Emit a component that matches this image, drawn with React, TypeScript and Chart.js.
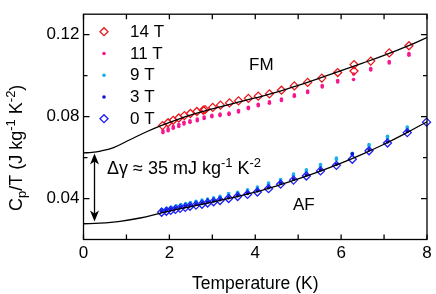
import React, { useEffect, useRef } from "react";
import { Chart, registerables } from "chart.js";

Chart.register(...registerables);

// ---------- data ----------
const T_14 = [1.84, 1.97, 2.09, 2.22, 2.35, 2.49, 2.64, 2.79, 2.83, 3.01, 3.19, 3.4, 3.61, 3.84, 4.07, 4.33, 4.61, 4.91, 5.22, 5.55, 5.92, 6.3, 6.3, 6.69, 7.12, 7.58];
const V_14 = [0.0756, 0.077, 0.0782, 0.0793, 0.0805, 0.0815, 0.0825, 0.0831, 0.0834, 0.0845, 0.0856, 0.0867, 0.0877, 0.0889, 0.09, 0.0911, 0.0929, 0.095, 0.0967, 0.0988, 0.1015, 0.1054, 0.1023, 0.1071, 0.1111, 0.1146];

const T_11 = [1.85, 1.97, 2.09, 2.22, 2.34, 2.48, 2.65, 2.81, 2.99, 3.18, 3.39, 3.61, 3.84, 4.07, 4.33, 4.61, 4.91, 5.22, 5.56, 5.92, 6.29, 6.69, 7.12, 7.58];
const V_11_LO = [0.0722, 0.0731, 0.0743, 0.0752, 0.0764, 0.0772, 0.078, 0.0791, 0.0799, 0.0805, 0.081, 0.0823, 0.0839, 0.0853, 0.0865, 0.0879, 0.0899, 0.0918, 0.0945, 0.0969, 0.0981, 0.1028, 0.1062, 0.11];
const V_11_HI = [0.0731, 0.074, 0.0751, 0.0761, 0.0772, 0.078, 0.0788, 0.0798, 0.0806, 0.0812, 0.0817, 0.083, 0.0846, 0.086, 0.0872, 0.0886, 0.0906, 0.0925, 0.0952, 0.0976, 0.1008, 0.1035, 0.1069, 0.1108];

const T_9 = [1.82, 1.94, 2.04, 2.16, 2.27, 2.38, 2.49, 2.62, 2.76, 2.89, 3.03, 3.18, 3.38, 3.59, 3.82, 4.05, 4.31, 4.59, 4.89, 5.19, 5.52, 5.89, 6.26, 6.65, 7.08, 7.54];
const V_9_HI = [0.0347, 0.0352, 0.0359, 0.0365, 0.0371, 0.0376, 0.0381, 0.0387, 0.0392, 0.0398, 0.0403, 0.0411, 0.0424, 0.0431, 0.0443, 0.0456, 0.0476, 0.0493, 0.052, 0.054, 0.0566, 0.0598, 0.0621, 0.0664, 0.0704, 0.0749];
const V_9_LO = [0.034, 0.0345, 0.0351, 0.0357, 0.0363, 0.0368, 0.0373, 0.0379, 0.0384, 0.039, 0.0395, 0.0403, 0.0416, 0.0423, 0.0435, 0.0448, 0.0468, 0.0485, 0.0512, 0.0532, 0.0558, 0.059, 0.0613, 0.0656, 0.0696, 0.0741];

const T_3 = [1.82, 1.93, 2.03, 2.14, 2.25, 2.37, 2.48, 2.62, 2.76, 2.89, 3.03, 3.18, 3.38, 3.59, 3.82, 4.05, 4.31, 4.59, 4.89, 5.19, 5.52, 5.89, 6.26, 6.65, 7.08, 7.54];
const V_3 = [0.0337, 0.0342, 0.0346, 0.0351, 0.0356, 0.0361, 0.0366, 0.0372, 0.0376, 0.0382, 0.0388, 0.0394, 0.0404, 0.0414, 0.0425, 0.0437, 0.0453, 0.0475, 0.0495, 0.0515, 0.054, 0.0567, 0.0618, 0.0638, 0.0676, 0.0727];

const T_0 = [1.82, 1.93, 2.03, 2.14, 2.25, 2.37, 2.48, 2.62, 2.76, 2.89, 3.03, 3.18, 3.38, 3.59, 3.82, 4.05, 4.31, 4.59, 4.89, 5.19, 5.52, 5.89, 6.26, 6.65, 7.08, 7.54, 7.99];
const V_0 = [0.0333, 0.0338, 0.0342, 0.0347, 0.0352, 0.0357, 0.0362, 0.0368, 0.0372, 0.0378, 0.0384, 0.039, 0.04, 0.041, 0.042, 0.0432, 0.0448, 0.047, 0.049, 0.051, 0.0535, 0.0562, 0.0592, 0.0633, 0.0671, 0.0722, 0.0773];

// fit curves
const FIT_FM_T = [0, 0.2, 0.4, 0.7, 1.08, 1.47, 1.82, 2.2, 2.6, 3.0, 3.5, 4.0, 4.5, 5.0, 5.5, 6.0, 6.5, 7.0, 7.5, 8.0];
const FIT_FM_V = [0.0623, 0.0625, 0.0632, 0.0649, 0.0687, 0.0726, 0.0757, 0.0787, 0.0814, 0.0838, 0.0865, 0.0891, 0.0919, 0.0952, 0.0988, 0.1024, 0.1061, 0.1099, 0.1140, 0.1186];
const FIT_AF_T = [0, 0.38, 0.85, 1.32, 1.78, 2.0, 2.5, 3.0, 3.5, 4.0, 4.5, 5.0, 5.5, 6.0, 6.5, 7.0, 7.5, 8.0];
const FIT_AF_V = [0.0277, 0.028, 0.0289, 0.0305, 0.0328, 0.0339, 0.0361, 0.0383, 0.0406, 0.0431, 0.0462, 0.0496, 0.0533, 0.0573, 0.0617, 0.0665, 0.0718, 0.0775];

// axes
const X_TICKS = [0, 1, 2, 3, 4, 5, 6, 7, 8];
const X_LABELED = [0, 2, 4, 6, 8];
const Y_TICKS = [0.04, 0.06, 0.08, 0.1, 0.12];
const Y_LABELED = [0.04, 0.08, 0.12];

const LEGEND = ["14 T", "11 T", "9 T", "3 T", "0 T"];

const C14 = "#e8161b";
const C11 = "#f7168f";
const C9 = "#1aaeea";
const C3 = "#1212c4";
const C0 = "#1e1ef2";

const FONT = "'Liberation Sans', Arial, Helvetica, sans-serif";

const pts = (t: number[], v: number[]) => t.map((x, i) => ({ x, y: v[i] }));

type Seg = { t: string; s: number; dy: number };

function drawRich(ctx: CanvasRenderingContext2D, segs: Seg[], x: number, y: number) {
  let cx = x;
  for (const sg of segs) {
    ctx.font = `${sg.s}px ${FONT}`;
    ctx.fillText(sg.t, cx, y + sg.dy);
    cx += ctx.measureText(sg.t).width;
  }
  return cx;
}

const overlay = {
  id: "overlay",
  afterDatasetsDraw(chart: any) {
    const { ctx, chartArea: a, scales } = chart;
    const xs = scales.x;
    const ys = scales.y;
    ctx.save();
    ctx.strokeStyle = "#000";
    ctx.fillStyle = "#000";
    ctx.lineWidth = 1.3;
    ctx.strokeRect(a.left, a.top, a.right - a.left, a.bottom - a.top);
    ctx.beginPath();
    for (const t of X_TICKS) {
      const px = xs.getPixelForValue(t);
      ctx.moveTo(px, a.bottom);
      ctx.lineTo(px, a.bottom - 5);
      ctx.moveTo(px, a.top);
      ctx.lineTo(px, a.top + 5);
    }
    for (const t of Y_TICKS) {
      const py = ys.getPixelForValue(t);
      const len = Y_LABELED.includes(t) ? 6 : 4;
      ctx.moveTo(a.left, py);
      ctx.lineTo(a.left + len, py);
      ctx.moveTo(a.right, py);
      ctx.lineTo(a.right - len, py);
    }
    ctx.stroke();

    // legend
    const datasets = chart.data.datasets;
    const lx = a.left + 20.5;
    const tx = a.left + 46.5;
    ctx.textBaseline = "middle";
    ctx.textAlign = "left";
    for (let i = 0; i < LEGEND.length; i++) {
      const ds = datasets[i];
      const ly = a.top + 17.5 + i * 21.75;
      ctx.beginPath();
      if (ds.pointStyle === "rectRot") {
        const r = ds.pointRadius;
        ctx.moveTo(lx - r, ly);
        ctx.lineTo(lx, ly - r);
        ctx.lineTo(lx + r, ly);
        ctx.lineTo(lx, ly + r);
        ctx.closePath();
        ctx.strokeStyle = ds.pointBorderColor;
        ctx.lineWidth = ds.pointBorderWidth;
        ctx.stroke();
      } else {
        ctx.arc(lx, ly, ds.pointRadius, 0, Math.PI * 2);
        ctx.fillStyle = ds.pointBackgroundColor;
        ctx.fill();
      }
      ctx.fillStyle = "#000";
      ctx.font = `17px ${FONT}`;
      ctx.fillText(LEGEND[i], tx, ly + 0.5);
    }

    // FM / AF labels
    ctx.textBaseline = "alphabetic";
    ctx.font = `17px ${FONT}`;
    ctx.fillText("FM", 249, 69.5);
    ctx.fillText("AF", 293, 210);

    // delta gamma arrow
    const ax = 94.5;
    const top = 153.5;
    const bot = 221.5;
    ctx.strokeStyle = "#000";
    ctx.lineWidth = 1.3;
    ctx.beginPath();
    ctx.moveTo(ax, top + 6);
    ctx.lineTo(ax, bot - 6);
    ctx.stroke();
    ctx.beginPath();
    ctx.moveTo(ax, top);
    ctx.lineTo(ax - 4.5, top + 11);
    ctx.lineTo(ax, top + 8);
    ctx.lineTo(ax + 4.5, top + 11);
    ctx.closePath();
    ctx.fill();
    ctx.beginPath();
    ctx.moveTo(ax, bot);
    ctx.lineTo(ax - 4.5, bot - 11);
    ctx.lineTo(ax, bot - 8);
    ctx.lineTo(ax + 4.5, bot - 11);
    ctx.closePath();
    ctx.fill();

    drawRich(
      ctx,
      [
        { t: "\u0394\u03b3 \u2248 35 mJ kg", s: 18, dy: 0 },
        { t: "-1", s: 13, dy: -7.5 },
        { t: " K", s: 18, dy: 0 },
        { t: "-2", s: 13, dy: -7.5 },
      ],
      107,
      174
    );

    // x title
    ctx.font = `17.5px ${FONT}`;
    ctx.textAlign = "center";
    ctx.fillText("Temperature (K)", (a.left + a.right) / 2, 288.5);
    ctx.textAlign = "left";

    // y title
    ctx.save();
    ctx.translate(22, 211);
    ctx.rotate(-Math.PI / 2);
    drawRich(
      ctx,
      [
        { t: "C", s: 18, dy: 0 },
        { t: "p", s: 13, dy: 4 },
        { t: "/T (J kg", s: 18, dy: 0 },
        { t: "-1", s: 13, dy: -7 },
        { t: " K", s: 18, dy: 0 },
        { t: "-2", s: 13, dy: -7 },
        { t: ")", s: 18, dy: 0 },
      ],
      0,
      0
    );
    ctx.restore();
    ctx.restore();
  },
};

export default function App() {
  const ref = useRef<HTMLCanvasElement | null>(null);
  useEffect(() => {
    if (!ref.current) return;
    const dot = (label: string, data: any[], color: string, order: number) => ({
      label,
      data,
      pointStyle: "circle",
      pointRadius: 1.8,
      pointBackgroundColor: color,
      pointBorderColor: color,
      pointBorderWidth: 0,
      showLine: false,
      order,
    });
    const dia = (label: string, data: any[], color: string, order: number) => ({
      label,
      data,
      pointStyle: "rectRot",
      pointRadius: 4,
      pointBackgroundColor: "rgba(0,0,0,0)",
      pointBorderColor: color,
      pointBorderWidth: 1.3,
      showLine: false,
      clip: false,
      order,
    });
    const fit = (data: any[]) => ({
      label: "fit",
      data,
      showLine: true,
      borderColor: "#000",
      borderWidth: 1.3,
      pointRadius: 0,
      tension: 0.4,
      cubicInterpolationMode: "default",
      order: 0,
    });
    const chart = new Chart(ref.current, {
      type: "scatter",
      data: {
        datasets: [
          dia("14 T", pts(T_14, V_14), C14, 1),
          dot("11 T", [...pts(T_11, V_11_LO), ...pts(T_11, V_11_HI)], C11, 3),
          dot("9 T", [...pts(T_9, V_9_LO), ...pts(T_9, V_9_HI)], C9, 3),
          dot("3 T", pts(T_3, V_3), C3, 2),
          dia("0 T", pts(T_0, V_0), C0, 1),
          fit(pts(FIT_FM_T, FIT_FM_V)),
          fit(pts(FIT_AF_T, FIT_AF_V)),
        ] as any,
      },
      options: {
        animation: false,
        responsive: false,
        events: [],
        layout: { padding: { left: 0, right: 9, top: 10, bottom: 0 } },
        plugins: { legend: { display: false }, tooltip: { enabled: false } },
        scales: {
          x: {
            type: "linear",
            min: 0,
            max: 8,
            afterFit: (s: any) => {
              s.height = 54.5;
            },
            afterBuildTicks: (s: any) => {
              s.ticks = X_TICKS.map((v) => ({ value: v }));
            },
            grid: { display: false, drawTicks: false },
            border: { display: false },
            ticks: {
              autoSkip: false,
              maxRotation: 0,
              padding: 4,
              color: "#000",
              font: { family: FONT, size: 17 },
              callback: (v: any) => (X_LABELED.includes(Number(v)) ? String(v) : ""),
            },
          },
          y: {
            type: "linear",
            min: 0.02,
            max: 0.13,
            afterFit: (s: any) => {
              s.width = 83.5;
            },
            afterBuildTicks: (s: any) => {
              s.ticks = Y_TICKS.map((v) => ({ value: v }));
            },
            grid: { display: false, drawTicks: false },
            border: { display: false },
            ticks: {
              autoSkip: false,
              padding: 4,
              color: "#000",
              font: { family: FONT, size: 17 },
              callback: (v: any) => {
                const n = Number(v);
                return Y_LABELED.some((l) => Math.abs(l - n) < 1e-9) ? n.toFixed(2) : "";
              },
            },
          },
        },
      } as any,
      plugins: [overlay],
    });
    return () => chart.destroy();
  }, []);
  return (
    <div style={{ position: "absolute", left: 0, top: 0, width: 436, height: 294, background: "#fff" }}>
      <canvas ref={ref} width={436} height={294} />
    </div>
  );
}
